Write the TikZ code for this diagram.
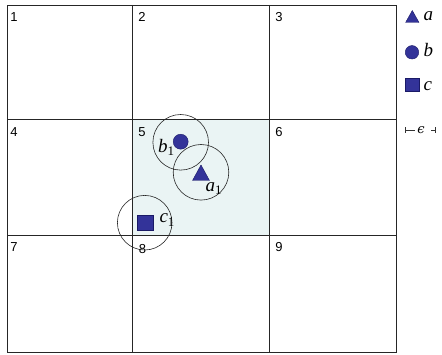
\documentclass[tikz,border=0pt]{standalone}
\usepackage{fontspec}
\setmainfont{Liberation Serif}
\setsansfont{Liberation Sans}
\newfontfamily\epsfont{DejaVu Serif}
\definecolor{cellfill}{HTML}{EAF4F4}
\definecolor{objfill}{HTML}{333399}
\definecolor{objline}{HTML}{1A1A66}
\newcommand{\lab}[1]{\textit{#1}\raisebox{-0.35ex}{\fontsize{13}{13}\selectfont 1}}
\begin{document}
\begin{tikzpicture}[x=1pt,y=-1pt,
  gridline/.style={draw=black!85,line width=0.9pt},
  num/.style={font=\sffamily\fontsize{13}{13}\selectfont,anchor=center,inner sep=0pt},
  lbl/.style={font=\rmfamily\fontsize{19}{19}\selectfont,inner sep=0pt},
  ring/.style={draw=black!85,line width=0.6pt},
  dotb/.style={circle,fill=objfill,draw=objline,line width=0.4pt,inner sep=0pt},
  tri/.style={fill=objfill,draw=objline,line width=0.4pt,line join=round},
  sq/.style={fill=objfill,draw=objline,line width=0.4pt},
  epsline/.style={draw=black!80,line width=0.7pt}]
\useasboundingbox (0,0) rectangle (442,355);
% shaded cell 5
\fill[cellfill] (132,119) rectangle (269,235);
% grid
\draw[gridline] (7,5) rectangle (396,352);
\draw[gridline] (132,5) -- (132,352);
\draw[gridline] (269,5) -- (269,352);
\draw[gridline] (7,119) -- (396,119);
\draw[gridline] (7,235) -- (396,235);
% cell numbers
\node[num] (n1) at (14,17) {1};
\node[num] (n2) at (142,17) {2};
\node[num] (n3) at (279,17) {3};
\node[num] (n4) at (14,132) {4};
\node[num] (n5) at (142,132) {5};
\node[num] (n6) at (279,132) {6};
\node[num] (n7) at (14,247) {7};
\node[num] (n8) at (142.5,249) {8};
\node[num] (n9) at (279,247) {9};
% circles
\draw[ring] (180.7,142.3) circle (27.8);
\draw[ring] (201,172.3) circle (27.8);
\draw[ring] (144.7,222.7) circle (27.3);
% objects
\node[dotb,minimum size=15pt] (b1) at (180.7,141.7) {};
\filldraw[tri] (201,165) -- (209.5,180.5) -- (192.5,180.5) -- cycle;
\coordinate (a1) at (201,174);
\filldraw[sq] (137.3,215) rectangle (153.5,230.7);
\coordinate (c1) at (145.5,223);
% labels
\node[lbl] (lb1) at (166,147) {\lab{b}};
\node[lbl] (la1) at (213.5,189) {\lab{a}};
\node[lbl] (lc1) at (167,220) {\lab{c}};
% legend
\filldraw[tri] (412.3,10.5) -- (419,22.5) -- (405.6,22.5) -- cycle;
\node[lbl,anchor=base west] (la) at (423.5,20.8) {\textit{a}};
\node[dotb,minimum size=13.5pt] (lgb) at (412,52.3) {};
\node[lbl,anchor=base west] (lb) at (423.5,56.3) {\textit{b}};
\filldraw[sq] (405.3,77.8) rectangle (418.7,91);
\node[lbl,anchor=base west] (lc) at (423.5,90.3) {\textit{c}};
% epsilon marker
\node[font=\epsfont\itshape\fontsize{13}{13}\selectfont,inner sep=0pt] (eps) at (421,130.3) {ϵ};
\coordinate (el) at (405,130);
\coordinate (er) at (435,130);
\coordinate (elx) at (415,130);
\coordinate (erx) at (431,130);
\draw[epsline] (el) -- (elx);
\draw[epsline] (erx) -- (er);
\draw[epsline] ([yshift=-3pt]el) -- ([yshift=3pt]el);
\draw[epsline] ([yshift=-3pt]er) -- ([yshift=3pt]er);
\end{tikzpicture}
\end{document}
